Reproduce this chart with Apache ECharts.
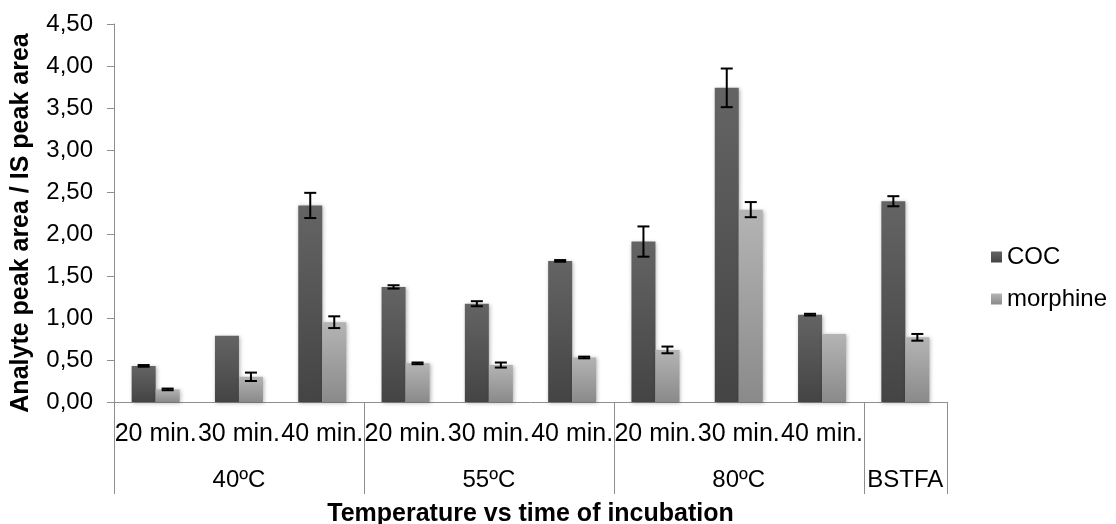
<!DOCTYPE html>
<html>
<head>
<meta charset="utf-8">
<script src="https://cdn.jsdelivr.net/npm/echarts@6/dist/echarts.min.js"></script>
<style>
  html, body { margin: 0; padding: 0; background: #fff; }
  #chart { width: 1116px; height: 524px; }
</style>
</head>
<body>
<div id="chart"></div>
<script>
// Incubation conditions (inner level) and temperature groups (outer level)
const timeLabels = ['20 min.', '30 min.', '40 min.', '20 min.', '30 min.', '40 min.', '20 min.', '30 min.', '40 min.', ''];
const groupLabels = ['40ºC', '55ºC', '80ºC', 'BSTFA'];
const groupSizes = [3, 3, 3, 1];

// Analyte / IS peak area ratios and their standard deviations
const cocValues = [0.43, 0.79, 2.34, 1.37, 1.17, 1.68, 1.91, 3.74, 1.04, 2.39];
const cocErrors = [0.01, null, 0.15, 0.02, 0.03, 0.01, 0.18, 0.23, 0.01, 0.06];
const morphineValues = [0.15, 0.30, 0.95, 0.46, 0.44, 0.53, 0.62, 2.29, 0.81, 0.77];
const morphineErrors = [0.01, 0.05, 0.07, 0.01, 0.03, 0.01, 0.04, 0.09, null, 0.04];

const yTicks = { min: 0, max: 4.5, interval: 0.5 };

const FONT = "'Liberation Sans', Arial, sans-serif";
const AXIS_GREY = '#8e8e8e';
const BAR_W = 24;

// outer-level axis: group name sits under the middle category of each group
const groupAxisData = [];
const groupSpans = [];
let start = 0;
groupSizes.forEach((n, g) => {
  for (let i = 0; i < n; i++) groupAxisData.push(i === Math.floor(n / 2) ? groupLabels[g] : '');
  groupSpans.push([start, start + n - 1, 0]);
  start += n;
});

function grad(top, bottom) {
  return new echarts.graphic.LinearGradient(0, 0, 0, 1, [
    { offset: 0, color: top }, { offset: 1, color: bottom }
  ]);
}
const cocColor = grad('#646464', '#444444');
const morColor = grad('#b4b4b4', '#8a8a8a');

function errorData(values, errors) {
  return values.map((v, i) => errors[i] == null ? null : [i, v - errors[i], v + errors[i]])
               .filter(d => d);
}

function errorRenderer(offset) {
  return function (params, api) {
    const x = api.coord([api.value(0), 0])[0] + offset;
    const yLo = api.coord([0, api.value(1)])[1];
    const yHi = api.coord([0, api.value(2)])[1];
    const half = 6;
    const style = { stroke: '#000', lineWidth: 2 };
    return {
      type: 'group',
      children: [
        { type: 'line', shape: { x1: x, y1: yLo, x2: x, y2: yHi }, style },
        { type: 'line', shape: { x1: x - half, y1: yHi, x2: x + half, y2: yHi }, style },
        { type: 'line', shape: { x1: x - half, y1: yLo, x2: x + half, y2: yLo }, style }
      ]
    };
  };
}

const chart = echarts.init(document.getElementById('chart'));
chart.setOption({
  animation: false,
  backgroundColor: '#fff',
  textStyle: { fontFamily: FONT, color: '#000' },
  grid: { left: 114, right: 169, top: 24, bottom: 122, containLabel: false, outerBoundsMode: 'none' },
  legend: {
    orient: 'vertical',
    left: 986,
    top: 240,
    itemWidth: 11,
    itemHeight: 11,
    itemGap: 18,
    icon: 'rect',
    textStyle: { fontSize: 24, fontFamily: FONT, color: '#000' },
    data: ['COC', 'morphine']
  },
  xAxis: [
    {
      type: 'category',
      data: timeLabels,
      axisLine: { lineStyle: { color: AXIS_GREY, width: 1 } },
      axisTick: { show: false },
      axisLabel: { interval: 0, fontSize: 25, color: '#000', margin: 20, fontFamily: FONT },
      name: 'Temperature vs time of incubation',
      nameLocation: 'middle',
      nameGap: 100,
      nameTextStyle: { fontSize: 25, fontWeight: 'bold', color: '#000', fontFamily: FONT }
    },
    {
      type: 'category',
      position: 'bottom',
      data: groupAxisData,
      axisLine: { show: false },
      axisTick: { show: false },
      axisLabel: { interval: 0, fontSize: 24, color: '#000', margin: 66, fontFamily: FONT }
    }
  ],
  yAxis: {
    type: 'value',
    min: yTicks.min,
    max: yTicks.max,
    interval: yTicks.interval,
    splitLine: { show: false },
    axisLine: { show: true, lineStyle: { color: AXIS_GREY, width: 1 } },
    axisTick: { show: true, inside: false, length: 7, lineStyle: { color: AXIS_GREY } },
    axisLabel: {
      fontSize: 24, color: '#000', margin: 21, fontFamily: FONT,
      formatter: v => v.toFixed(2).replace('.', ',')
    },
    name: 'Analyte peak area / IS peak area',
    nameLocation: 'middle',
    nameRotate: 90,
    nameGap: 80,
    nameTextStyle: { fontSize: 25, fontWeight: 'bold', color: '#000', fontFamily: FONT, padding: [0, 20, 0, 0] }
  },
  series: [
    {
      name: 'COC',
      type: 'bar',
      xAxisIndex: 0,
      data: cocValues,
      barWidth: BAR_W,
      barGap: '0%',
      itemStyle: { color: cocColor, shadowBlur: 4, shadowColor: 'rgba(0,0,0,0.3)', shadowOffsetX: 1, shadowOffsetY: 1 }
    },
    {
      name: 'morphine',
      type: 'bar',
      xAxisIndex: 0,
      data: morphineValues,
      barWidth: BAR_W,
      barGap: '0%',
      itemStyle: { color: morColor, shadowBlur: 4, shadowColor: 'rgba(0,0,0,0.3)', shadowOffsetX: 1, shadowOffsetY: 1 }
    },
    {
      type: 'custom',
      xAxisIndex: 0,
      data: errorData(cocValues, cocErrors),
      renderItem: errorRenderer(-BAR_W / 2),
      z: 5
    },
    {
      type: 'custom',
      xAxisIndex: 0,
      data: errorData(morphineValues, morphineErrors),
      renderItem: errorRenderer(BAR_W / 2),
      z: 5
    },
    {
      // vertical dividers between the temperature groups below the axis
      type: 'custom',
      xAxisIndex: 0,
      clip: false,
      silent: true,
      encode: { x: [0, 1], y: 2 },
      data: groupSpans,
      renderItem: function (params, api) {
        const band = api.size([1, 0])[0];
        const y0 = api.coord([0, 0])[1];
        const xl = api.coord([api.value(0), 0])[0] - band / 2;
        const xr = api.coord([api.value(1), 0])[0] + band / 2;
        const style = { stroke: AXIS_GREY, lineWidth: 1 };
        return {
          type: 'group',
          children: [
            { type: 'line', shape: { x1: Math.round(xl) + 0.5, y1: y0, x2: Math.round(xl) + 0.5, y2: y0 + 92 }, style },
            { type: 'line', shape: { x1: Math.round(xr) + 0.5, y1: y0, x2: Math.round(xr) + 0.5, y2: y0 + 92 }, style }
          ]
        };
      }
    }
  ]
});
</script>
</body>
</html>
